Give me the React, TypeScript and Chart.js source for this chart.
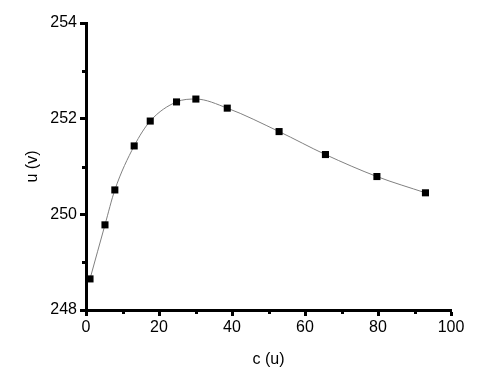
import React, { useEffect, useRef } from "react";
import { Chart, registerables } from "chart.js";

Chart.register(...registerables);

const xValues = [1.1, 5.2, 7.9, 13.2, 17.6, 24.8, 30.1, 38.7, 52.9, 65.6, 79.7, 93.0];
const yValues = [248.65, 249.78, 250.51, 251.43, 251.95, 252.35, 252.41, 252.22, 251.73, 251.25, 250.79, 250.45];
const xTicks = [0, 20, 40, 60, 80, 100];
const yTicks = [248, 250, 252, 254];
const xMinor = [10, 30, 50, 70, 90];
const yMinor = [249, 251, 253];

const minorTicks = {
  id: "minorTicks",
  afterDraw(chart: any) {
    const ctx = chart.ctx;
    const xs = chart.scales.x;
    const ys = chart.scales.y;
    ctx.save();
    ctx.strokeStyle = "#000";
    ctx.lineWidth = 3;
    xMinor.forEach((v) => {
      const px = Math.round(xs.getPixelForValue(v)) + 0.5;
      ctx.beginPath();
      ctx.moveTo(px, ys.bottom + 1);
      ctx.lineTo(px, ys.bottom + 4);
      ctx.stroke();
    });
    yMinor.forEach((v) => {
      const py = Math.round(ys.getPixelForValue(v)) + 0.5;
      ctx.beginPath();
      ctx.moveTo(xs.left - 1, py);
      ctx.lineTo(xs.left - 4, py);
      ctx.stroke();
    });
    ctx.restore();
  },
};

export default function App() {
  const ref = useRef<HTMLCanvasElement>(null);
  useEffect(() => {
    if (!ref.current) return;
    const font = { family: "'Liberation Sans', Arial, sans-serif", size: 16 };
    const chart = new Chart(ref.current, {
      type: "line",
      data: {
        datasets: [
          {
            data: xValues.map((x, i) => ({ x, y: yValues[i] })),
            borderColor: "#808080",
            borderWidth: 1,
            cubicInterpolationMode: "monotone",
            pointStyle: "rect",
            pointRadius: 5,
            pointBackgroundColor: "#000",
            pointBorderColor: "#000",
            pointBorderWidth: 0,
            fill: false,
          },
        ],
      },
      options: {
        animation: false,
        responsive: true,
        maintainAspectRatio: false,
        layout: { padding: { left: 0, right: 32, top: 23, bottom: 0 } },
        plugins: { legend: { display: false }, tooltip: { enabled: false } },
        scales: {
          x: {
            type: "linear",
            min: 0,
            max: 100,
            afterBuildTicks: (s: any) => {
              s.ticks = xTicks.map((v) => ({ value: v }));
            },
            afterFit: (s: any) => {
              s.height = 61;
            },
            ticks: { color: "#000", font, padding: 2, maxRotation: 0 },
            grid: {
              display: true,
              drawOnChartArea: false,
              drawTicks: true,
              tickLength: 6,
              tickWidth: 3,
              tickColor: "#000",
            },
            border: { display: true, width: 3, color: "#000" },
            title: {
              display: true,
              text: "c (u)",
              color: "#000",
              font,
              padding: { top: 0, bottom: 2 },
            },
          },
          y: {
            type: "linear",
            min: 248,
            max: 254,
            afterBuildTicks: (s: any) => {
              s.ticks = yTicks.map((v) => ({ value: v }));
            },
            afterFit: (s: any) => {
              s.width = 86;
            },
            ticks: { color: "#000", font, padding: 3 },
            grid: {
              display: true,
              drawOnChartArea: false,
              drawTicks: true,
              tickLength: 6,
              tickWidth: 3,
              tickColor: "#000",
            },
            border: { display: true, width: 3, color: "#000" },
            title: {
              display: true,
              text: "u (v)",
              color: "#000",
              font,
              padding: { top: 23, bottom: 0 },
            },
          },
        },
      },
      plugins: [minorTicks],
    } as any);
    return () => chart.destroy();
  }, []);
  return (
    <div
      style={{
        position: "absolute",
        left: 0,
        top: 0,
        width: 483,
        height: 371,
        background: "#fff",
      }}
    >
      <canvas ref={ref} />
    </div>
  );
}
